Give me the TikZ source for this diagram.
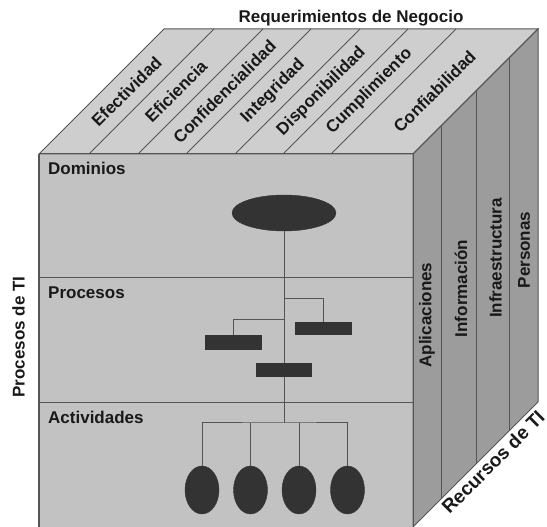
\documentclass[tikz,border=0pt]{standalone}
\usepackage{fontspec}
\setmainfont{Liberation Sans}
\usetikzlibrary{shapes.geometric}

\definecolor{frontgray}{HTML}{C2C2C2}
\definecolor{topgray}{HTML}{CECECE}
\definecolor{sidegray}{HTML}{9C9C9C}
\definecolor{edgegray}{HTML}{555555}
\definecolor{boxgray}{HTML}{333333}

\tikzset{
  lbl/.style={font=\fontsize{17}{19}\selectfont\bfseries, text=black!90, inner sep=0pt},
  toplbl/.style={lbl, rotate=45},
  sidelbl/.style={lbl, rotate=90},
  bar/.style={rectangle, fill=boxgray, draw=boxgray, minimum width=56pt, minimum height=13pt, inner sep=0pt},
  blob/.style={ellipse, fill=boxgray, draw=boxgray, inner sep=0pt},
  link/.style={draw=edgegray, line width=1pt},
  face/.style={draw=edgegray, line width=1pt},
}

\begin{document}
\begin{tikzpicture}[x=1pt,y=1pt]
  \useasboundingbox (0,0) rectangle (547,527);

  % Faces:
  \fill[frontgray] (39,0) rectangle (413,373);
  \filldraw[face, fill=topgray] (39,373) -- (164,498) -- (538,498) -- (413,373) -- cycle;
  \filldraw[face, fill=sidegray] (413,0) -- (538,125) -- (538,498) -- (413,373) -- cycle;
  \draw[face] (413,0) -- (413,373) -- (39,373);
  \draw[face, line width=1.8pt] (39,0) -- (39,373);
  \draw[face] (39,249) -- (413,249);
  \draw[face] (39,124) -- (413,124);

  % Requerimientos (top):
  \foreach \a/\b/\txt in {39/89/Efectividad, 89/138/Eficiencia,
      138/186/Confidencialidad, 186/235/Integridad, 235/283/Disponibilidad,
      283/331/Cumplimiento, 331/413/Confiabilidad} {
    \draw[edgegray, line width=0.8pt] (\b,373) -- ++(125,125);
    \node[toplbl] at ({(\a+\b)/2+62.5},435.5) {\txt};
  }

  % Recursos (side):
  \foreach \x in {441,476,509}
    \draw[face] (\x,{\x-413}) -- (\x,{\x-40});
  \node[sidelbl] (apl) at (427,212) {Aplicaciones};
  \node[sidelbl] (inf) at (461,238.5) {Información};
  \node[sidelbl] (infra) at (495.5,269) {Infraestructura};
  \node[sidelbl] (pers) at (524,277) {Personas};

  % Titles:
  \node[lbl] (req) at (351,509) {Requerimientos de Negocio};
  \node[sidelbl] (proc) at (18.5,190) {Procesos de TI};
  \node[toplbl, font=\fontsize{19}{21}\selectfont\bfseries] (rec) at (493,65) {Recursos de TI};
  \node[lbl, anchor=north west] (dominios) at (48,365) {Dominios};
  \node[lbl, anchor=north west] (procesos) at (48,240) {Procesos};
  \node[lbl, anchor=north west] (actividades) at (48,116) {Actividades};

  % Nodes:
  \node[blob, minimum width=104pt, minimum height=36pt] (dom) at (284,314) {};
  \node[bar, minimum height=12pt] (procR) at (323,199) {};
  \node[bar, minimum height=14pt] (procL) at (233,185) {};
  \node[bar, minimum width=55pt] (procM) at (284,157) {};
  \foreach \i/\x in {1/202,2/250.5,3/299,4/347.5}
    \node[blob, minimum width=34pt, minimum height=48pt] (act\i) at (\x,37) {};
  \coordinate (forkR) at (284,228);
  \coordinate (forkL) at (284,207);
  \coordinate (bus) at (284,104);

  % Connections:
  \draw[link] (dom) -- (procM);
  \draw[link] (forkR) -| (procR);
  \draw[link] (forkL) -| (procL);
  \draw[link] (procM) -- (bus);
  \draw[link] (act1.north) |- (bus) -| (act4.north);
  \draw[link] (act2) -- (act2 |- bus);
  \draw[link] (act3) -- (act3 |- bus);

\end{tikzpicture}
\end{document}
